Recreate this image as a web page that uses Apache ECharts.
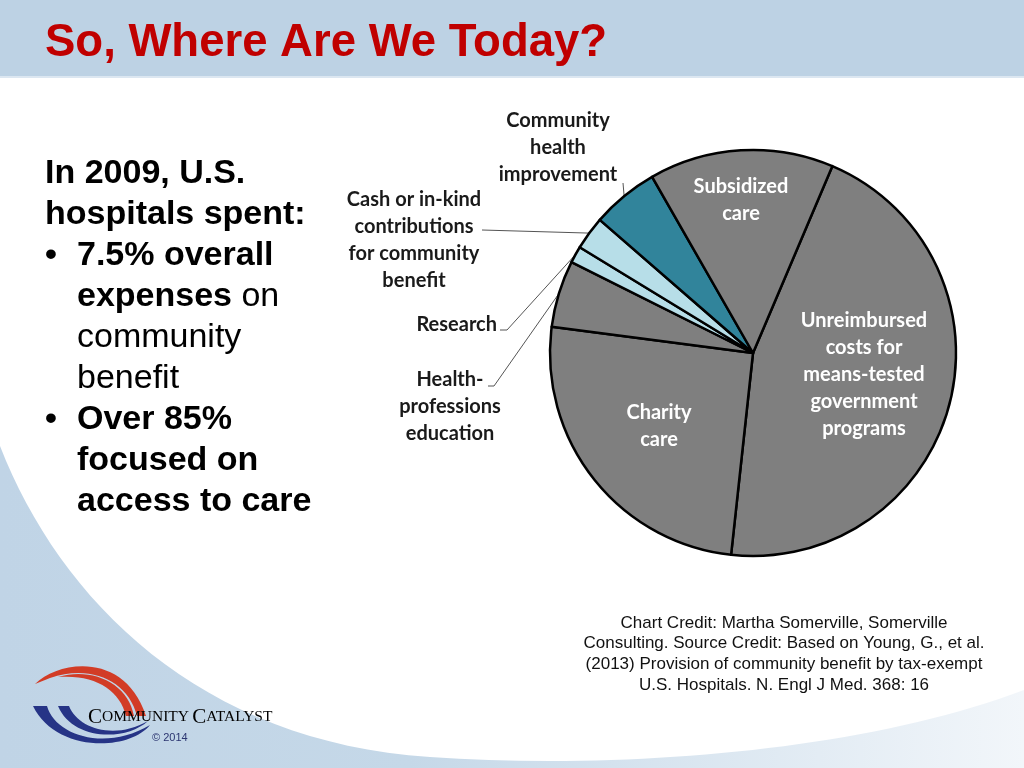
<!DOCTYPE html>
<html><head><meta charset="utf-8">
<script src="https://cdn.jsdelivr.net/npm/echarts@6/dist/echarts.min.js"></script>
<style>html,body{margin:0;padding:0;background:#fff}#c{width:1024px;height:768px}</style>
</head><body><div id="c"></div>
<script>
// ---- data (share of hospital expenses, %, 2009) ----
const categories = ['Unreimbursed costs for means-tested government programs', 'Charity care', 'Health-professions education', 'Research', 'Cash or in-kind contributions for community benefit', 'Community health improvement', 'Subsidized care'];
const values = [3.4, 1.9, 0.4, 0.1, 0.2, 0.4, 1.1];
const labelTexts = [
  ['Unreimbursed', 'costs for', 'means-tested', 'government', 'programs'],
  ['Charity', 'care'],
  ['Health-', 'professions', 'education'],
  ['Research'],
  ['Cash or in-kind', 'contributions', 'for community', 'benefit'],
  ['Community', 'health', 'improvement'],
  ['Subsidized', 'care']
];
const sliceColors = ['#7f7f7f', '#7f7f7f', '#7f7f7f', '#b7dee8', '#b7dee8', '#31849b', '#7f7f7f'];
const insideLabel = [true, true, false, false, false, false, true];

const titleText = 'So, Where Are We Today?';
const creditLines = ['Chart Credit: Martha Somerville, Somerville', 'Consulting. Source Credit: Based on Young, G., et al.', '(2013) Provision of community benefit by tax-exempt', 'U.S. Hospitals. N. Engl J Med. 368: 16'];

// ---- layout (positions of labels, not data) ----
const labelPos = [
  { x: 864, y: 375, align: 'center' },
  { x: 659, y: 426, align: 'center' },
  { x: 450, y: 407, align: 'center', tail: [[494, 386], [488, 386]] },
  { x: 497, y: 325, align: 'right', tail: [[507, 330], [500, 330]] },
  { x: 414, y: 240, align: 'center', tail: [[482, 230]] },
  { x: 558, y: 148, align: 'center', tail: [[623, 183]] },
  { x: 741, y: 200, align: 'center' }
];

const pieData = categories.map((c, i) => ({
  name: c,
  value: values[i],
  itemStyle: { color: sliceColors[i] },
  label: {
    position: insideLabel[i] ? 'inside' : 'outside',
    color: insideLabel[i] ? '#ffffff' : '#1a1a1a',
    formatter: labelTexts[i].join('\n')
  },
  labelLine: { show: !insideLabel[i] }
}));

// custom background / logo shapes
const shapePaths = {
  bgCurve: 'M0,446 C60,600 200,742 430,757 C620,770 860,752 1024,690 L1024,768 L0,768 Z',
  red1: 'M35,684 C60,660 125,652 146,716 L137,716 C128,680 90,664 50,678 Z',
  red2: 'M58,677 C92,667 128,683 134,716 L126,716 C120,690 95,674 58,677 Z',
  blue1: 'M33,706 L47,706 C55,735 105,752 150,725 C128,752 55,752 33,706 Z',
  blue2: 'M58,706 L69,706 C78,729 115,740 148,721 C125,742 72,740 58,706 Z'
};
Object.keys(shapePaths).forEach(k => {
  echarts.graphic.registerShape(k, echarts.graphic.extendPath(shapePaths[k], {}));
});

const FONT = '"Liberation Sans", Arial, sans-serif';
const g = [];
g.push({ type: 'rect', shape: { x: 0, y: 0, width: 1024, height: 768 }, style: { fill: '#ffffff' }, silent: true });
g.push({ type: 'bgCurve', style: { fill: new echarts.graphic.LinearGradient(0, 0, 1, 0, [{ offset: 0, color: '#c0d4e6' }, { offset: 0.4, color: '#c5d8e8' }, { offset: 1, color: '#f2f6fa' }]) }, silent: true });
g.push({ type: 'rect', shape: { x: 0, y: 0, width: 1024, height: 76 }, style: { fill: '#bdd2e4' }, silent: true });
g.push({ type: 'rect', shape: { x: 0, y: 76, width: 1024, height: 2 }, style: { fill: '#dce7f1' }, silent: true });
g.push({ type: 'text', style: { text: titleText, x: 45, y: 43, font: 'bold 45.5px ' + FONT, fill: '#c00000', textVerticalAlign: 'middle' } });
const lh = 41, y0 = 174;
const leftLines = [
  { x: 45, t: '{b|In 2009, U.S.}' },
  { x: 45, t: '{b|hospitals spent:}' },
  { x: 77, t: '{b|7.5% overall}', bullet: true },
  { x: 77, t: '{b|expenses}{r| on}' },
  { x: 77, t: '{r|community}' },
  { x: 77, t: '{r|benefit}' },
  { x: 77, t: '{b|Over 85%}', bullet: true },
  { x: 77, t: '{b|focused on}' },
  { x: 77, t: '{b|access to care}' }
];
leftLines.forEach((l, i) => {
  const y = y0 + i * lh;
  if (l.bullet) g.push({ type: 'text', style: { text: '•', x: 45, y: y, font: 'bold 34px ' + FONT, fill: '#000', textVerticalAlign: 'middle' } });
  g.push({ type: 'text', style: { text: l.t, x: l.x, y: y, textVerticalAlign: 'middle', rich: {
    b: { fontFamily: FONT, fontWeight: 'bold', fontSize: 34, color: '#000' },
    r: { fontFamily: FONT, fontWeight: 'normal', fontSize: 34, color: '#000' } } } });
});
creditLines.forEach((t, i) => {
  g.push({ type: 'text', style: { text: t, x: 784, y: 623 + i * 20.7, font: '17px ' + FONT, fill: '#111', textAlign: 'center', textVerticalAlign: 'middle' } });
});
g.push({ type: 'red1', style: { fill: '#d23c26' }, silent: true });
g.push({ type: 'red2', style: { fill: '#d23c26' }, silent: true });
g.push({ type: 'blue1', style: { fill: '#263486' }, silent: true });
g.push({ type: 'blue2', style: { fill: '#263486' }, silent: true });
g.push({ type: 'text', style: { text: '{B|C}{S|OMMUNITY} {B|C}{S|ATALYST}', x: 88, y: 717, textVerticalAlign: 'middle', rich: {
  B: { fontFamily: '"Liberation Serif", serif', fontSize: 21, color: '#3a4676' },
  S: { fontFamily: '"Liberation Serif", serif', fontSize: 15.5, color: '#3a4676' } } } });
g.push({ type: 'text', style: { text: '© 2014', x: 152, y: 738, font: '11px ' + FONT, fill: '#2b3570', textVerticalAlign: 'middle' } });

const chart = echarts.init(document.getElementById('c'), null, { renderer: 'canvas' });
chart.setOption({
  animation: false,
  backgroundColor: '#ffffff',
  graphic: { elements: g },
  series: [{
    type: 'pie',
    center: [753, 353],
    radius: 203,
    startAngle: 67,
    clockwise: true,
    avoidLabelOverlap: false,
    silent: true,
    itemStyle: { borderColor: '#000000', borderWidth: 2.5 },
    label: { fontFamily: 'Lato, "Open Sans", sans-serif', fontWeight: 'bold', fontSize: 20, lineHeight: 27 },
    labelLine: { length: 10, length2: 10, lineStyle: { color: '#555555', width: 1 } },
    labelLayout: function (p) {
      const pos = labelPos[p.dataIndex];
      const o = { x: pos.x, y: pos.y, align: pos.align, verticalAlign: 'middle' };
      if (pos.tail && p.labelLinePoints) {
        o.labelLinePoints = [p.labelLinePoints[0]].concat(pos.tail);
      }
      return o;
    },
    data: pieData
  }]
});
</script></body></html>
